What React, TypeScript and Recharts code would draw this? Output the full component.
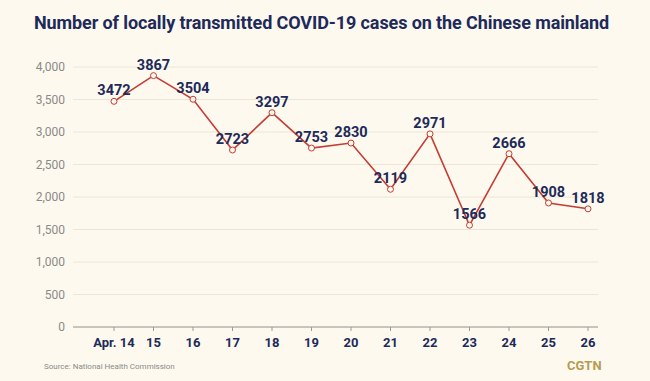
import React from 'react';
import { LineChart, Line, XAxis, YAxis, CartesianGrid, LabelList } from 'recharts';

const days = ['Apr. 14', '15', '16', '17', '18', '19', '20', '21', '22', '23', '24', '25', '26'];
const cases = [3472, 3867, 3504, 2723, 3297, 2753, 2830, 2119, 2971, 1566, 2666, 1908, 1818];
const yTicks = [0, 500, 1000, 1500, 2000, 2500, 3000, 3500, 4000];

const data = days.map((day, i) => ({ day, cases: cases[i] }));

const FONT = 'Roboto, "DejaVu Sans", sans-serif';

const App: React.FC = () => {
  return (
    <div
      style={{
        position: 'absolute',
        left: 0,
        top: 0,
        width: 650,
        height: 381,
        background: '#fdf9ee',
        fontFamily: FONT,
      }}
    >
      <div
        style={{
          position: 'absolute',
          top: 12,
          width: 643,
          textAlign: 'center',
          fontSize: 18,
          fontWeight: 700,
          color: '#1d2a5a',
          letterSpacing: -0.1,
        }}
      >
        Number of locally transmitted COVID-19 cases on the Chinese mainland
      </div>
      <LineChart width={650} height={381} data={data} margin={{ top: 67, right: 52, bottom: 26, left: 0 }}>
        <CartesianGrid vertical={false} stroke="#ece6d4" />
        <XAxis
          dataKey="day"
          padding={{ left: 41, right: 10 }}
          stroke="#9a9a9a"
          tickSize={4}
          tickMargin={7}
          tick={{ fill: '#1d2a5a', fontSize: 13, fontWeight: 700, fontFamily: FONT }}
          interval={0}
          height={28}
        />
        <YAxis
          domain={[0, 4000]}
          ticks={yTicks}
          axisLine={false}
          tickLine={false}
          width={73}
          tickFormatter={(v: number) => v.toLocaleString('en-US')}
          tick={{ fill: '#8a8a8a', fontSize: 12, fontFamily: FONT }}
        />
        <Line
          type="linear"
          dataKey="cases"
          stroke="#c43c33"
          strokeWidth={1.6}
          dot={{ r: 3, fill: '#fdf9ee', stroke: '#c43c33', strokeWidth: 1 }}
          isAnimationActive={false}
        >
          <LabelList
            dataKey="cases"
            position="top"
            offset={6}
            style={{ fill: '#1d2a5a', fontSize: 14.5, fontWeight: 700, fontFamily: FONT }}
          />
        </Line>
      </LineChart>
      <div style={{ position: 'absolute', left: 44, top: 362, fontSize: 8, color: '#8a8a8a' }}>
        Source: National Health Commission
      </div>
      <div style={{ position: 'absolute', left: 567, top: 358, fontSize: 13, fontWeight: 700, color: '#b89b52' }}>
        CGTN
      </div>
    </div>
  );
};

export default App;
